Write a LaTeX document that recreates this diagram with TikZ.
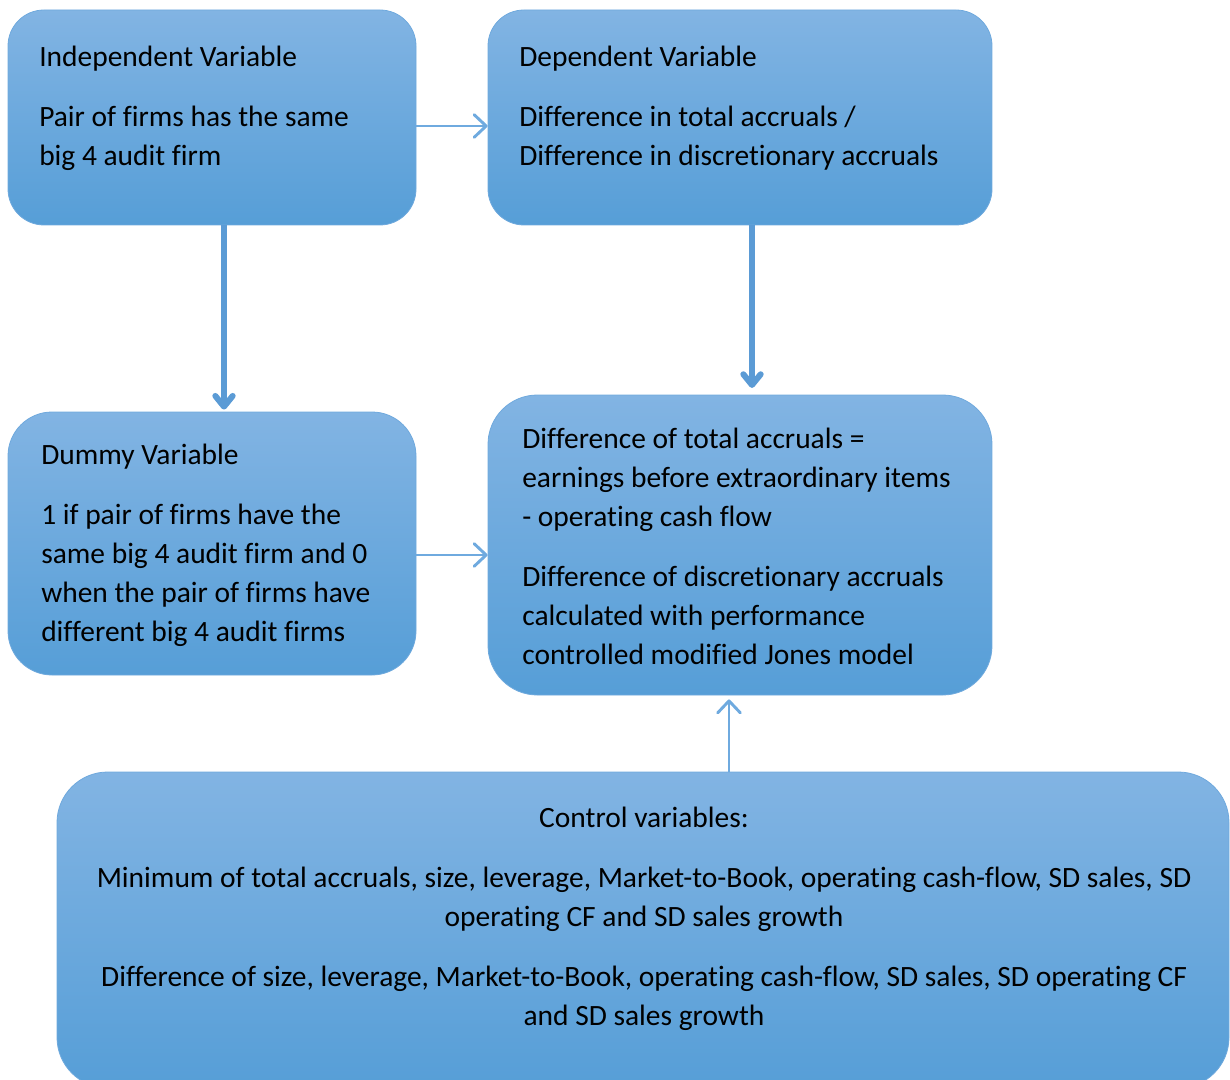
\documentclass[tikz,border=0pt]{standalone}
\usepackage{fontspec}
\setmainfont{Carlito}[RawFeature={-liga;-clig;-calt;-dlig}]
\usetikzlibrary{arrows.meta,fit}

\definecolor{boxtop}{HTML}{82B4E3}
\definecolor{boxbot}{HTML}{569ED7}
\definecolor{boxedge}{HTML}{6FA9DD}
\definecolor{arrowblue}{HTML}{5B9BD5}
\definecolor{thinblue}{HTML}{6FAADF}

\tikzset{
  box/.style={draw=boxedge, line width=0.6pt, top color=boxtop, bottom color=boxbot, inner sep=0pt},
  txt/.style={inner sep=0pt, font=\fontsize{22.1}{29.25}\selectfont, align=left},
  thinarrow/.style={draw=thinblue, line width=2.2pt, -{Straight Barb[length=9pt,width=17pt,round]}},
  thickarrow/.style={draw=arrowblue, line width=4.5pt, -{Straight Barb[length=8pt,width=13pt,round]}},
}

\begin{document}
\begin{tikzpicture}[x=0.75pt,y=-0.75pt]
				\path[use as bounding box] (0,0) rectangle (1230,1080);
				\clip (0,0) rectangle (1230,1080);
				% boxes
				\node[box, rounded corners=27pt, fit={(8,10) (416,225)}] (indep) {};
				\node[box, rounded corners=27pt, fit={(488,10) (992,225)}] (dep) {};
				\node[box, rounded corners=33pt, fit={(8,412) (416,675)}] (dummy) {};
				\node[box, rounded corners=37pt, fit={(488,395) (992,695)}] (diff) {};
				\node[box, rounded corners=38pt, fit={(57,772) (1229,1088)}] (ctrl) {};
				% texts
				\node[txt, anchor=north west] (indeptxt) at (39,46) {Independent Variable\\[15.75pt]Pair of firms has the same\\big 4 audit firm};
				\node[txt, anchor=north west] (deptxt) at (519,46) {Dependent Variable\\[15.75pt]Difference in total accruals /\\Difference in discretionary accruals};
				\node[txt, anchor=north west] (dummytxt) at (41,444) {Dummy Variable\\[15.75pt]1 if pair of firms have the\\same big 4 audit firm and 0\\when the pair of firms have\\different big 4 audit firms};
				\node[txt, anchor=north west] (difftxt) at (522,428) {Difference of total accruals =\\earnings before extraordinary items\\- operating cash flow\\[15.75pt]Difference of discretionary accruals\\calculated with performance\\controlled modified Jones model};
				\node[txt, align=center, anchor=north] (ctrltxt) at (644,807) {Control variables:\\[15.75pt]Minimum of total accruals, size, leverage, Market-to-Book, operating cash-flow, SD sales, SD\\operating CF and SD sales growth\\[15.75pt]Difference of size, leverage, Market-to-Book, operating cash-flow, SD sales, SD operating CF\\and SD sales growth};
				% arrows
				\draw[thinarrow] (indep.east |- 0,126) -- (dep.west |- 0,126);
				\draw[thickarrow, shorten >=1.5pt] (indep.south -| 224,0) -- (dummy.north -| 224,0);
				\draw[thickarrow, shorten >=5pt] (dep.south -| 752,0) -- (diff.north -| 752,0);
				\draw[thinarrow] (dummy.east |- 0,555) -- (diff.west |- 0,555);
				\draw[thinarrow, shorten >=3pt] (ctrl.north -| 729,0) -- (diff.south -| 729,0);
			\end{tikzpicture}
\end{document}
